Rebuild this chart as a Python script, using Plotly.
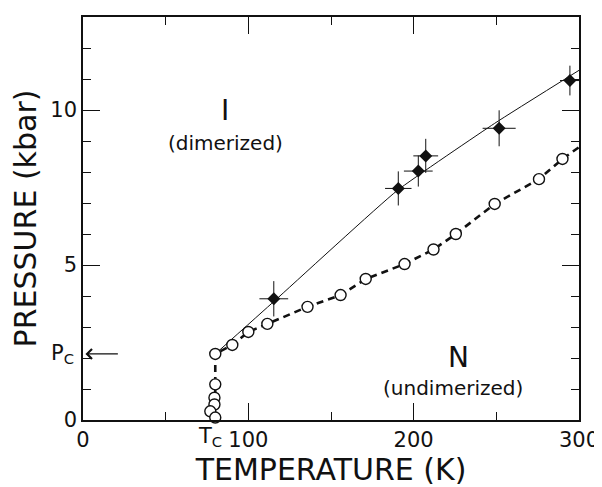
import plotly.graph_objects as go

# ---- data ----
# open circles (N/I boundary)
open_T = [80, 79.5, 79.5, 77, 80, 80, 90.3, 100, 111.5, 135.8, 155.8, 171, 194.5, 212, 225.5, 249, 275.8, 290]
open_P = [1.15, 0.72, 0.5, 0.28, 0.08, 2.13, 2.42, 2.84, 3.1, 3.65, 4.03, 4.55, 5.03, 5.5, 6.0, 6.97, 7.77, 8.42]

# dashed boundary curve through the open circles
dash_T = [80, 80, 90.3, 100, 111.5, 135.8, 155.8, 171, 194.5, 212, 225.5, 249, 275.8, 290, 300]
dash_P = [0, 2.13, 2.42, 2.84, 3.1, 3.65, 4.03, 4.55, 5.03, 5.5, 6.0, 6.97, 7.77, 8.42, 8.8]

# filled diamonds with error crosses
fill_T = [115.4, 190.7, 202.8, 207.3, 251.7, 294.5]
fill_P = [3.91, 7.47, 8.03, 8.52, 9.41, 10.95]
fill_dT = [8.7, 8.0, 8.7, 7.5, 10.0, 6.0]
fill_dP = [0.57, 0.55, 0.50, 0.55, 0.58, 0.48]

# thin solid boundary
solid_T = [80, 116, 190, 249, 300]
solid_P = [2.13, 3.85, 7.4, 9.57, 11.28]

Tc = 80
Pc = 2.13

x_major = [0, 100, 200, 300]
x_minor = [50, 150, 250]
y_major = [0, 5, 10]
y_minor = [1, 2, 3, 4, 6, 7, 8, 9, 11, 12]

INK = "#111111"
FONT = "DejaVu Sans"

fig = go.Figure()

fig.add_trace(go.Scatter(x=solid_T, y=solid_P, mode="lines",
                         line=dict(color=INK, width=1, shape="spline", smoothing=0.4),
                         hoverinfo="skip", showlegend=False))
fig.add_trace(go.Scatter(x=dash_T, y=dash_P, mode="lines",
                         line=dict(color=INK, width=2.6, dash="7px,5px"),
                         hoverinfo="skip", showlegend=False))
fig.add_trace(go.Scatter(x=open_T, y=open_P, mode="markers", cliponaxis=False,
                         marker=dict(symbol="circle", size=11, color="white",
                                     line=dict(color=INK, width=1.4)),
                         showlegend=False))
fig.add_trace(go.Scatter(x=fill_T, y=fill_P, mode="markers", cliponaxis=False,
                         marker=dict(symbol="diamond", size=10, color=INK),
                         error_x=dict(type="data", array=fill_dT, color=INK, thickness=1, width=0),
                         error_y=dict(type="data", array=fill_dP, color=INK, thickness=1, width=0),
                         showlegend=False))

ann = []
ann.append(dict(x=86, y=10.0, text="I", showarrow=False,
                font=dict(family=FONT, size=28, color=INK)))
ann.append(dict(x=86, y=8.95, text="(dimerized)", showarrow=False,
                font=dict(family=FONT, size=20, color=INK)))
ann.append(dict(x=227, y=2.03, text="N", showarrow=False,
                font=dict(family=FONT, size=28, color=INK)))
ann.append(dict(x=224, y=1.03, text="(undimerized)", showarrow=False,
                font=dict(family=FONT, size=20, color=INK)))
# Tc label under the axis
ann.append(dict(x=77, y=0, yshift=-17, text="T<sub>C</sub>", showarrow=False,
                xanchor="center", yanchor="middle",
                font=dict(family=FONT, size=21, color=INK)))
# Pc label and arrow
ann.append(dict(x=0, y=Pc, xshift=-7, text="P<sub>C</sub>", showarrow=False,
                xanchor="right", yanchor="middle",
                font=dict(family=FONT, size=21, color=INK)))
ann.append(dict(x=1.5, y=Pc, ax=22, ay=Pc, axref="x", ayref="y", text="",
                showarrow=True, arrowhead=4, arrowsize=1.6, arrowwidth=1.2,
                arrowcolor=INK))

# page body has an 8px margin: offset margins so the axes land where the reference has them
fig.update_layout(
    width=594, height=479,
    margin=dict(l=75, r=23, t=9, b=67),
    paper_bgcolor="white", plot_bgcolor="white",
    annotations=ann,
    font=dict(family=FONT, color=INK),
)
fig.update_xaxes(
    range=[0, 300], showgrid=False, zeroline=False,
    showline=True, linecolor=INK, linewidth=1.5, mirror="allticks",
    ticks="inside", ticklen=17, tickwidth=1.3, tickcolor=INK,
    tickmode="array", tickvals=x_major, ticktext=[str(v) for v in x_major],
    tickfont=dict(family=FONT, size=21, color=INK),
    minor=dict(tickmode="array", tickvals=x_minor, ticks="inside", ticklen=8,
               tickwidth=1.3, tickcolor=INK, showgrid=False),
    title=dict(text="TEMPERATURE (K)", font=dict(family=FONT, size=30, color=INK), standoff=4),
    automargin=False,
)
fig.update_yaxes(
    range=[0, 13], showgrid=False, zeroline=False,
    showline=True, linecolor=INK, linewidth=1.5, mirror="allticks",
    ticks="inside", ticklen=17, tickwidth=1.3, tickcolor=INK,
    tickmode="array", tickvals=y_major, ticktext=[str(v) for v in y_major],
    tickfont=dict(family=FONT, size=21, color=INK),
    minor=dict(tickmode="array", tickvals=y_minor, ticks="inside", ticklen=8,
               tickwidth=1.3, tickcolor=INK, showgrid=False),
    title=dict(text="PRESSURE (kbar)", font=dict(family=FONT, size=30, color=INK), standoff=8),
    automargin=False,
)

fig.write_html("out.html")
